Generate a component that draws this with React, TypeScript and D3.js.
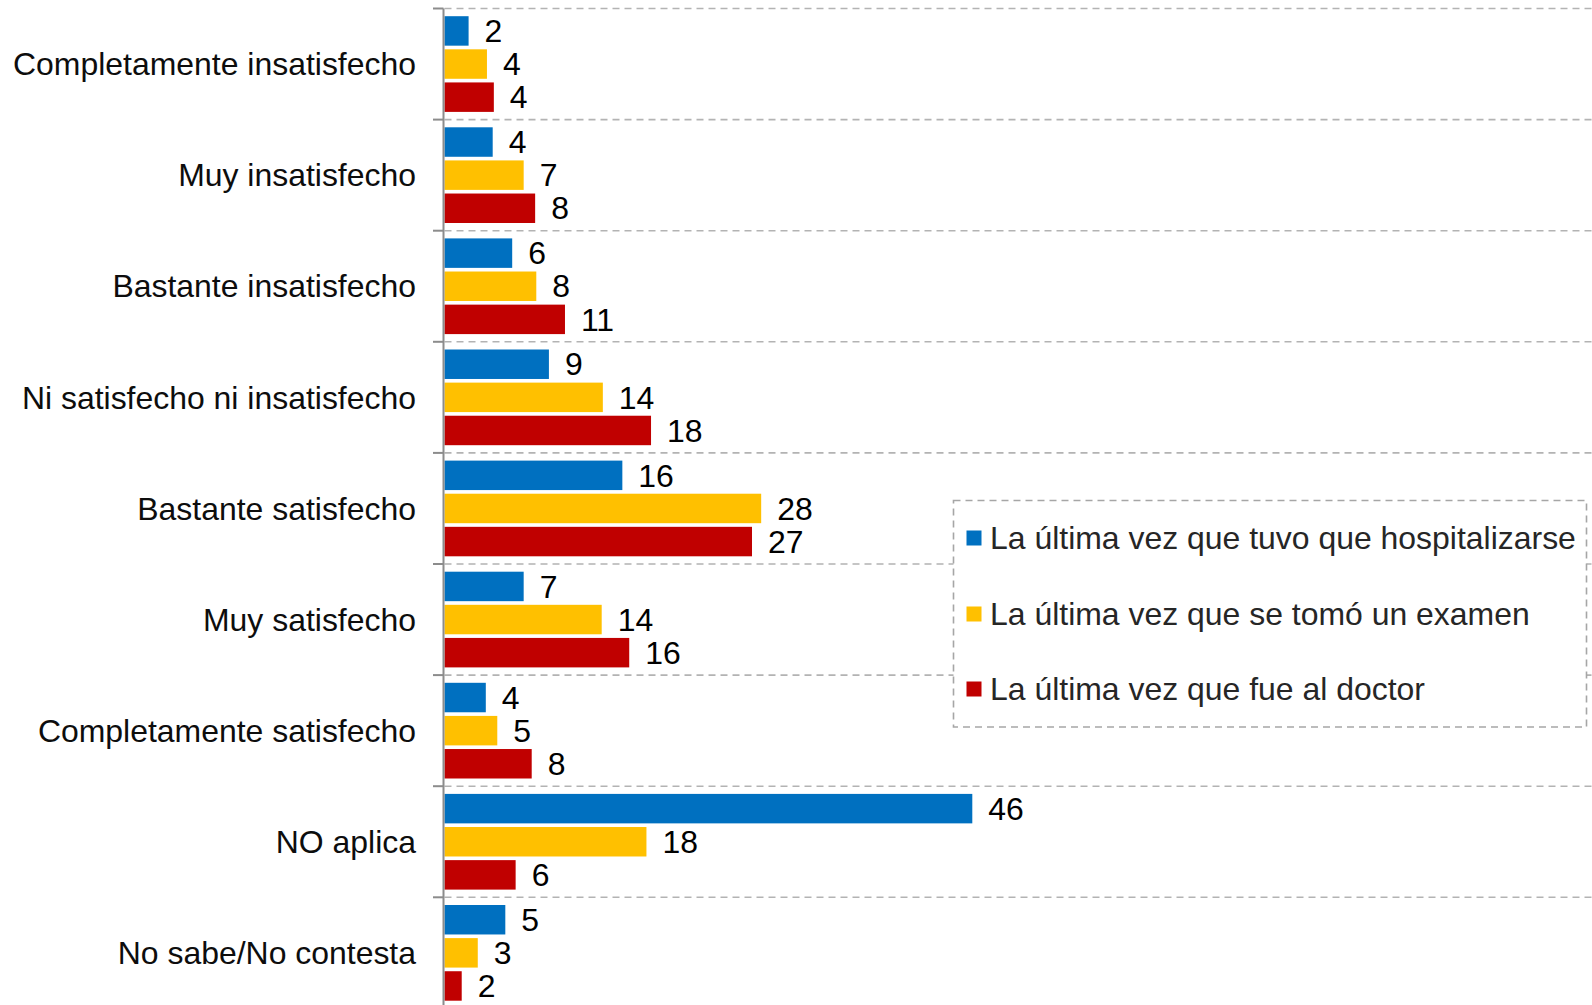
import React from "react";
import * as d3 from "d3";

const categories = [
  "Completamente insatisfecho",
  "Muy insatisfecho",
  "Bastante insatisfecho",
  "Ni satisfecho ni insatisfecho",
  "Bastante satisfecho",
  "Muy satisfecho",
  "Completamente satisfecho",
  "NO aplica",
  "No sabe/No contesta",
];

const seriesNames = [
  "La última vez que tuvo que hospitalizarse",
  "La última vez que se tomó un examen",
  "La última vez que fue al doctor",
];

const hospitalizarse = [2.1, 4.2, 5.9, 9.1, 15.5, 6.9, 3.6, 46, 5.3];
const examen = [3.7, 6.9, 8.0, 13.8, 27.6, 13.7, 4.6, 17.6, 2.9];
const doctor = [4.3, 7.9, 10.5, 18.0, 26.8, 16.1, 7.6, 6.2, 1.5];

const seriesColors = ["#0070C0", "#FFC000", "#C00000"];

const W = 1592;
const H = 1005;
const FONT = "'Liberation Sans', Arial, sans-serif";
const FS = 31.95;

export default function App() {
  const seriesValues = [hospitalizarse, examen, doctor];
  const axisX = 443.5;
  const x = d3.scaleLinear().domain([0, 46]).range([444.5, 972.3]);
  const y = d3
    .scaleBand<string>()
    .domain(categories)
    .range([8.5, 8.5 + 111.1 * categories.length])
    .paddingInner(0)
    .paddingOuter(0);
  const inner = d3
    .scaleBand<string>()
    .domain(seriesNames)
    .range([7.7, 103.4])
    .paddingInner(0.11)
    .paddingOuter(0);

  const gridYs = categories.map((c) => y(c) as number);
  gridYs.push((y(categories[categories.length - 1]) as number) + y.bandwidth());

  const legend = { x: 953.5, y: 500.5, w: 633, h: 226.5 };
  const legendRows = [538, 614, 689];

  return (
    <svg
      width={W}
      height={H}
      style={{ position: "absolute", left: 0, top: 0, background: "#fff" }}
      fontFamily={FONT}
    >
      <rect x={0} y={0} width={W} height={H} fill="#fff" />
      {gridYs.map((gy, i) => (
        <g key={"g" + i}>
          <line x1={433} x2={axisX} y1={gy} y2={gy} stroke="#8c8c8c" strokeWidth={2} />
          <line
            x1={axisX + 1}
            x2={W}
            y1={gy}
            y2={gy}
            stroke="#b3b3b3"
            strokeWidth={1.6}
            strokeDasharray="7,5"
          />
        </g>
      ))}
      {categories.map((c, ci) => {
        const by = y(c) as number;
        return (
          <g key={c}>
            <text
              x={416}
              y={by + y.bandwidth() / 2}
              dy="0.35em"
              textAnchor="end"
              fontSize={FS}
              fill="#0d0d0d"
            >
              {c}
            </text>
            {seriesNames.map((s, si) => {
              const v = seriesValues[si][ci];
              const yy = by + (inner(s) as number);
              return (
                <g key={s}>
                  <rect
                    x={x(0)}
                    y={yy}
                    width={x(v) - x(0)}
                    height={inner.bandwidth()}
                    fill={seriesColors[si]}
                  />
                  <text
                    x={x(v) + 16}
                    y={yy + inner.bandwidth() / 2}
                    dy="0.35em"
                    fontSize={FS}
                    fill="#000"
                  >
                    {Math.round(v)}
                  </text>
                </g>
              );
            })}
          </g>
        );
      })}
      <line x1={axisX} x2={axisX} y1={8.5} y2={H} stroke="#8c8c8c" strokeWidth={2} />
      <rect
        x={legend.x}
        y={legend.y}
        width={legend.w}
        height={legend.h}
        fill="#fff"
        stroke="#a6a6a6"
        strokeWidth={1.6}
        strokeDasharray="7,5"
      />
      {seriesNames.map((s, si) => (
        <g key={"l" + s}>
          <rect
            x={966.5}
            y={legendRows[si] - 7.5}
            width={15}
            height={15}
            fill={seriesColors[si]}
          />
          <text x={990} y={legendRows[si]} dy="0.35em" fontSize={FS} fill="#262626">
            {s}
          </text>
        </g>
      ))}
    </svg>
  );
}
